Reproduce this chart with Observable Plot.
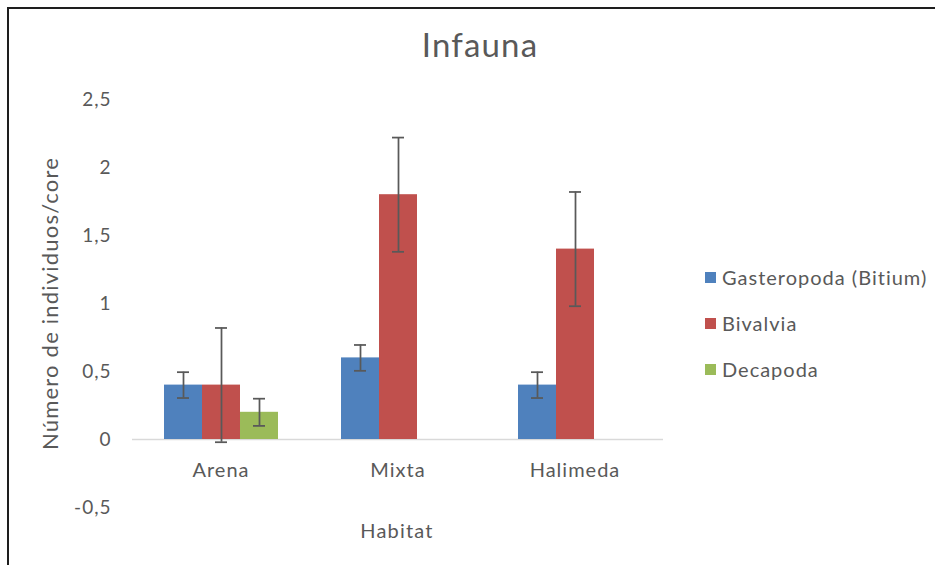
<!DOCTYPE html>
<html>
<head>
<meta charset="utf-8">
<script src="https://cdn.jsdelivr.net/npm/d3@7"></script>
<script src="https://cdn.jsdelivr.net/npm/@observablehq/plot@0.6"></script>
<style>
  html, body { margin: 0; padding: 0; background: #fff; overflow: hidden; }
  #wrap { position: relative; width: 935px; height: 565px; font-family: Lato, "Open Sans", sans-serif; color: #595959; overflow: hidden; }
  #chart { position: absolute; left: 0; top: 0; }
  #frame { position: absolute; left: 7px; top: 7px; width: 1000px; height: 1000px; border: 2px solid #1e1e1e; box-sizing: border-box; pointer-events: none; }
  #title { position: absolute; left: 0; width: 960px; top: 24px; text-align: center; font-size: 33px; letter-spacing: 1.2px; line-height: 40px; }
  #xlabel { position: absolute; left: 297px; width: 200px; top: 517px; text-align: center; font-size: 20px; letter-spacing: 1.2px; line-height: 26px; }
  #legend { position: absolute; left: 705px; top: 264px; font-size: 20px; letter-spacing: 1px; line-height: 26px; }
  .item { display: flex; align-items: center; height: 26px; margin-bottom: 20px; white-space: nowrap; }
  .sw { width: 11px; height: 11px; margin-right: 6px; flex: none; }
  #chart g[aria-label="y-axis label"] text { font-size: 22px; letter-spacing: 1.2px; }
</style>
</head>
<body>
<div id="wrap">
  <div id="chart"></div>
  <div id="frame"></div>
  <div id="title"></div>
  <div id="xlabel"></div>
  <div id="legend"></div>
</div>
<script>
// ---- data ----
const categories = ["Arena", "Mixta", "Halimeda"];
const series = ["Gasteropoda (Bitium)", "Bivalvia", "Decapoda"];
const gasteropoda = [0.4, 0.6, 0.4];
const gasteropodaErr = [0.095, 0.095, 0.095];
const bivalvia = [0.4, 1.8, 1.4];
const bivalviaErr = [0.42, 0.42, 0.42];
const decapoda = [0.2, 0, 0];
const decapodaErr = [0.1, 0, 0];
const colors = ["#4F81BD", "#C0504D", "#9BBB59"];
const yTicks = [-0.5, 0, 0.5, 1, 1.5, 2, 2.5];
const titleText = "Infauna";
const yLabel = "Número de individuos/core";
const xLabel = "Habitat";

// ---- build table ----
const values = [gasteropoda, bivalvia, decapoda];
const errors = [gasteropodaErr, bivalviaErr, decapodaErr];
const rows = [];
series.forEach((s, si) => {
  categories.forEach((c, ci) => {
    rows.push({category: c, series: s, value: values[si][ci], err: errors[si][ci]});
  });
});
const errRows = rows.filter(d => d.err > 0);
const fmt = d => String(d).replace(".", ",");

const chart = Plot.plot({
  width: 935,
  height: 565,
  marginLeft: 132,
  marginRight: 272,
  marginTop: 99,
  marginBottom: 58,
  style: {fontFamily: "Lato, 'Open Sans', sans-serif", fontSize: "19px", letterSpacing: "1px", color: "#595959", background: "transparent", overflow: "visible"},
  fx: {domain: categories, padding: 0, axis: null},
  x: {domain: series, paddingInner: 0, paddingOuter: 0.77, axis: null},
  y: {domain: [-0.5, 2.5], ticks: yTicks, tickFormat: fmt, tickSize: 0, tickPadding: 21,
      label: yLabel, labelAnchor: "center", labelOffset: 90, labelArrow: "none"},
  color: {domain: series, range: colors},
  marks: [
    Plot.ruleY([0], {stroke: "#D9D9D9", strokeWidth: 1.5}),
    Plot.barY(rows, {fx: "category", x: "series", y: "value", fill: "series"}),
    Plot.ruleX(errRows, {fx: "category", x: "series", y1: d => d.value - d.err, y2: d => d.value + d.err, stroke: "#595959", strokeWidth: 1.75}),
    Plot.tickY(errRows, {fx: "category", x: "series", y: d => d.value - d.err, inset: 13, stroke: "#595959", strokeWidth: 1.75}),
    Plot.tickY(errRows, {fx: "category", x: "series", y: d => d.value + d.err, inset: 13, stroke: "#595959", strokeWidth: 1.75}),
    Plot.text(categories, {fx: d => d, y: 0, text: d => d, dy: 31, fontSize: 20, fill: "#595959"})
  ]
});
document.getElementById("chart").appendChild(chart);

document.getElementById("title").textContent = titleText;
document.getElementById("xlabel").textContent = xLabel;
const legend = document.getElementById("legend");
series.forEach((s, i) => {
  const item = document.createElement("div");
  item.className = "item";
  const sw = document.createElement("span");
  sw.className = "sw";
  sw.style.background = colors[i];
  const t = document.createElement("span");
  t.textContent = s;
  item.appendChild(sw);
  item.appendChild(t);
  legend.appendChild(item);
});
</script>
</body>
</html>
